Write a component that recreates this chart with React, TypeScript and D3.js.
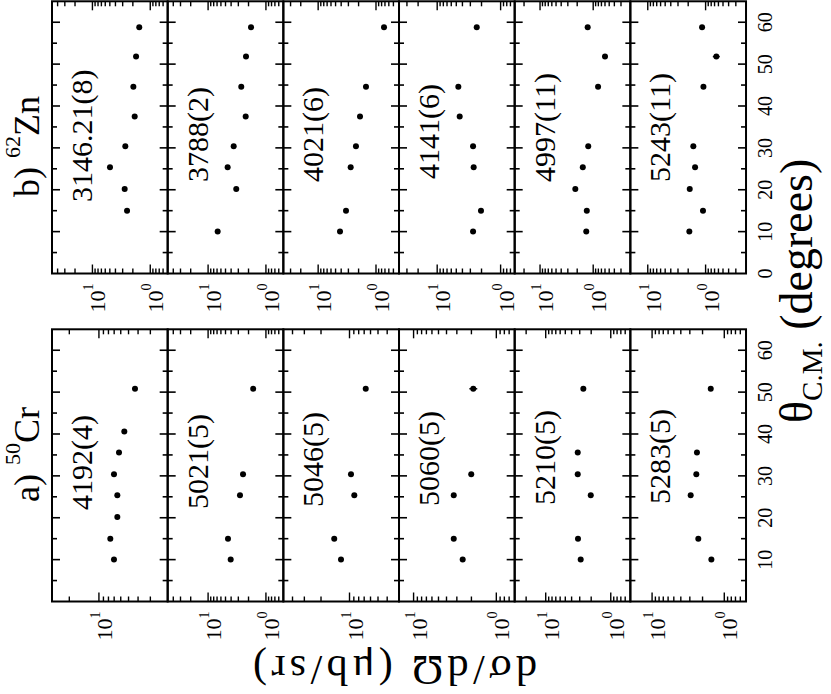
import React from "react";
import * as d3 from "d3";

// ---------- data ----------
const crAngles = [10, 15, 20.2, 25.4, 30.4, 35.6, 40.6, 50.8];
const znAngles = [10, 15, 20.2, 25.4, 30.4, 37.5, 44.6, 51.8, 58.8];

const crLevels = ["4192(4)", "5021(5)", "5046(5)", "5060(5)", "5210(5)", "5283(5)"];
const znLevels = ["3146.21(8)", "3788(2)", "4021(6)", "4141(6)", "4997(11)", "5243(11)"];

// cross sections (μb/sr), null = not measured; order follows the angle arrays
const cr4192 = [7.03, 7.66, 6.5, 6.5, 7.03, 6.25, 5.52, 4.3];
const cr5021 = [4.07, 4.53, null, 2.81, 2.49, null, null, 1.66];
const cr5046 = [12.3, 14.5, null, 8.9, 9.65, null, null, 6.74];
const cr5060 = [2.55, 3.27, null, 3.27, 2.01, null, null, 1.9];
const cr5210 = [2.9, 3.19, null, 2.03, 3.22, 3.22, null, 2.64];
const cr5283 = [1.51, 2.29, null, 2.92, 2.44, 2.39, null, 1.54];

const zn3146 = [null, 2.52, 2.77, 4.97, 2.7, 1.86, 1.96, 1.76, 1.55];
const zn3788 = [6.83, null, 3.26, 4.59, 3.61, 2.24, 2.67, 2.21, 1.81];
const zn4021 = [4.19, 3.3, null, 2.74, 2.22, 1.89, 1.49, null, 0.727];
const zn4141 = [2.72, 2.04, null, 2.66, 2.72, 4.42, 4.64, null, 2.38];
const zn4997 = [1.35, 1.32, 2.17, 1.57, 1.24, null, 0.81, 0.6, 1.27];
const zn5243 = [1.91, 1.11, 1.88, 1.52, 1.63, null, 1.09, 0.652, 1.15];

const crValues = [cr4192, cr5021, cr5046, cr5060, cr5210, cr5283];
const znValues = [zn3146, zn3788, zn4021, zn4141, zn4997, zn5243];

// y-axis (log) ranges per panel [max, min]
const crRanges = [[30, 2], [50, 0.5], [50, 3], [15, 0.6], [30, 0.5], [20, 0.5]];
const znRanges = [[50, 0.5], [50, 0.5], [40, 0.4], [40, 0.6], [30, 0.2], [20, 0.2]];

// error bars: [panel, angle index, low, high]
const crErrors = [[3, 7, 1.7, 2.12]];
const znErrors = [[5, 7, 0.57, 0.75]];

const crThetaTicks = [10, 20, 30, 40, 50, 60];
const znThetaTicks = [0, 10, 20, 30, 40, 50, 60];

// ---------- layout (drawn in the un-rotated frame, then turned -90°) ----------
const SW = 831, SH = 694;
const rowTop = 52, rowH = 115.67;
const serif = { fontFamily: "Liberation Serif, Times New Roman, Times, DejaVu Serif, serif" };

type Col = {
  x0: number; x1: number; levels: string[]; angles: number[];
  values: (number | null)[][]; ranges: number[][]; errors: number[][];
  thetaTicks: number[]; labelX: number[]; tag: string; sup: string; el: string; tagX: number;
};

const cols: Col[] = [
  { x0: 92.5, x1: 364.7, levels: crLevels, angles: crAngles, values: crValues, ranges: crRanges,
    errors: crErrors, thetaTicks: crThetaTicks, labelX: [184, 185, 187, 188, 189, 190],
    tag: "a)", sup: "50", el: "Cr", tagX: 192 },
  { x0: 420.5, x1: 692.7, levels: znLevels, angles: znAngles, values: znValues, ranges: znRanges,
    errors: znErrors, thetaTicks: znThetaTicks, labelX: [492, 512, 512, 515, 512, 512],
    tag: "b)", sup: "62", el: "Zn", tagX: 497 },
];

function Panel({ c, r }: { c: Col; r: number }) {
  const top = rowTop + r * rowH;
  const bot = top + rowH;
  const x = d3.scaleLinear().domain([0, 65]).range([c.x0, c.x1]);
  const [hi, lo] = c.ranges[r];
  const y = d3.scaleLog().domain([hi, lo]).range([top, bot]);
  const thetaMinor = d3.range(5, 65, 5);
  const logTicks: { v: number; major: boolean }[] = [];
  for (let e = Math.floor(Math.log10(lo)) - 1; e <= Math.ceil(Math.log10(hi)); e++) {
    for (let k = 1; k <= 9; k++) {
      const v = k * Math.pow(10, e);
      if (v > lo * 1.0001 && v < hi * 0.9999) logTicks.push({ v, major: k === 1 });
    }
  }
  const majors = logTicks.filter((t) => t.major);
  const vals = c.values[r];
  return (
    <g>
      {thetaMinor.map((t) => {
        const L = t % 10 === 0 ? 8 : 5;
        return (
          <g key={"t" + t} stroke="#000" strokeWidth={1.6}>
            <line x1={x(t)} x2={x(t)} y1={top} y2={top + L} />
            <line x1={x(t)} x2={x(t)} y1={bot} y2={bot - L} />
          </g>
        );
      })}
      {logTicks.map((t, i) => {
        const L = t.major ? 9 : 5;
        return (
          <g key={"l" + i} stroke="#000" strokeWidth={1.4}>
            <line x1={c.x0} x2={c.x0 + L} y1={y(t.v)} y2={y(t.v)} />
            <line x1={c.x1} x2={c.x1 - L} y1={y(t.v)} y2={y(t.v)} />
          </g>
        );
      })}
      {majors.map((t, i) => (
        <text key={"ml" + i} x={c.x0 - 10} y={y(t.v) + 13} textAnchor="end" fontSize={22} style={serif}>
          10
          <tspan dy={-12} fontSize={14}>{String(Math.round(Math.log10(t.v)))}</tspan>
        </text>
      ))}
      <rect x={c.x0} y={top} width={c.x1 - c.x0} height={rowH} fill="none" stroke="#000" strokeWidth={2} />
      {c.errors.filter((e) => e[0] === r).map((e, i) => (
        <line key={"e" + i} x1={x(c.angles[e[1]])} x2={x(c.angles[e[1]])} y1={y(e[2])} y2={y(e[3])} stroke="#000" strokeWidth={1.4} />
      ))}
      {vals.map((v, i) =>
        v == null ? null : <circle key={"p" + i} cx={x(c.angles[i])} cy={y(v)} r={3} fill="#000" />
      )}
      <text x={c.labelX[r]} y={top + 40} fontSize={30} style={serif}>{c.levels[r]}</text>
    </g>
  );
}

export default function App() {
  return (
    <svg width={SW} height={SH} style={{ position: "absolute", left: 0, top: 0, background: "#fff" }}>
      <rect width={SW} height={SH} fill="#fff" />
      <g transform={`translate(0,${SH}) rotate(-90)`}>
        {cols.map((c, ci) => (
          <g key={ci}>
            {d3.range(6).map((r) => <Panel key={r} c={c} r={r} />)}
            {c.thetaTicks.map((t) => {
              const x = d3.scaleLinear().domain([0, 65]).range([c.x0, c.x1]);
              return (
                <text key={t} x={x(t)} y={772} textAnchor="middle" fontSize={20} style={serif}>{t}</text>
              );
            })}
            <text x={c.tagX} y={39} fontSize={36} style={serif}>
              {c.tag + " "}
              <tspan dy={-19} fontSize={22}>{c.sup}</tspan>
              <tspan dy={19}>{c.el}</tspan>
            </text>
          </g>
        ))}
        <text x={271} y={812} fontSize={46} style={serif}>
          θ<tspan dy={10} fontSize={29}>C.M.</tspan>
          <tspan dy={-10}>{" (degrees)"}</tspan>
        </text>
        <text transform="translate(38,395) rotate(-90)" textAnchor="middle" fontSize={42} style={serif}
          textLength={284} lengthAdjust="spacing">
          dσ/dΩ  (μb/sr)
        </text>
      </g>
    </svg>
  );
}
